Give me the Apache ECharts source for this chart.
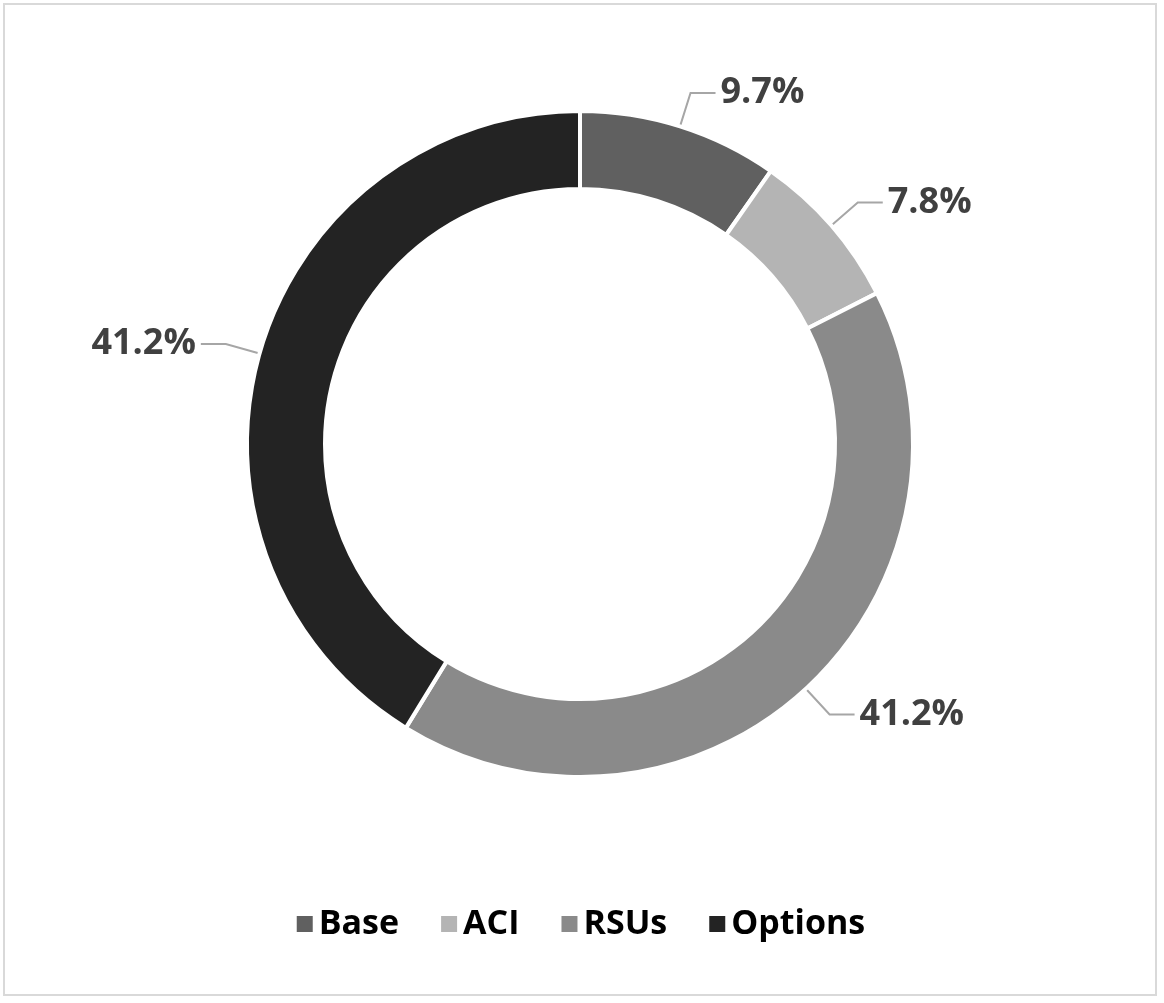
<!DOCTYPE html>
<html><head><meta charset="utf-8">
<script src="https://cdn.jsdelivr.net/npm/echarts@6/dist/echarts.min.js"></script>
<style>html,body{margin:0;padding:0;background:#fff}
#c{position:absolute;left:3px;top:3px;width:1154px;height:993px;border:2px solid #d9d9d9;box-sizing:border-box}</style>
</head><body><div id="c"></div>
<script>
const categories = ['Base','ACI','RSUs','Options'];
const values = [9.7, 7.8, 41.2, 41.2];
const colors = ['#606060','#b4b4b4','#8a8a8a','#232323'];
const chart = echarts.init(document.getElementById('c'));
chart.setOption({
  animation:false,
  legend:{bottom:48,left:'center',itemWidth:18,itemHeight:18,itemGap:40,icon:'rect',
    textStyle:{fontFamily:'Open Sans',fontWeight:'bold',fontSize:34,color:'#000'}},
  series:[{type:'pie',center:[575,439],radius:[255,333],
    data:categories.map((n,i)=>({name:n,value:values[i],itemStyle:{color:colors[i]}})),
    itemStyle:{borderColor:'#fff',borderWidth:4},
    label:{formatter:p=>p.value.toFixed(1)+'%',fontFamily:'Open Sans',fontWeight:'bold',fontSize:36,color:'#404040'},
    labelLine:{length:35,length2:25,lineStyle:{color:'#a6a6a6',width:2}}
  }]
});
</script></body></html>
